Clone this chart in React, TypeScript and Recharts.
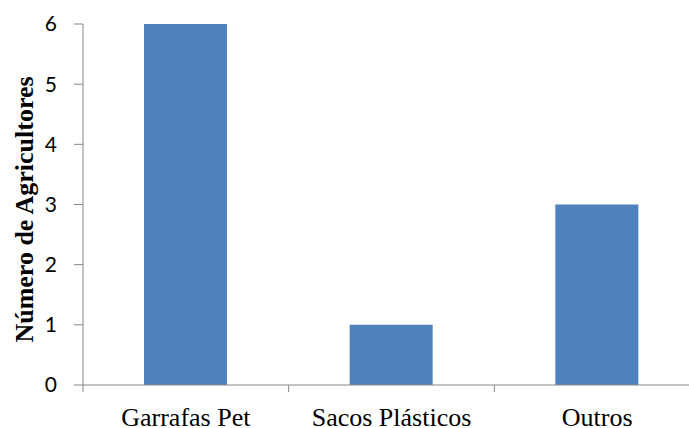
import { BarChart, Bar, XAxis, YAxis, Label } from "recharts";

const categories = ["Garrafas Pet", "Sacos Plásticos", "Outros"];
const agricultores = [6, 1, 3];
const yTicks = [0, 1, 2, 3, 4, 5, 6];

const data = categories.map((name, i) => ({ name, agricultores: agricultores[i] }));

const AXIS = "#878787";

// category label plus an Excel-style tick mark on the band boundary
// eslint-disable-next-line @typescript-eslint/no-explicit-any
const CategoryTick = ({ x, y, payload, index }: any) => {
  const half = payload?.offset ?? 0;
  return (
    <g>
      <line x1={x - half} x2={x - half} y1={y} y2={y + 7} stroke={AXIS} strokeWidth={1} />
      {index === categories.length - 1 && (
        <line x1={x + half} x2={x + half} y1={y} y2={y + 7} stroke={AXIS} strokeWidth={1} />
      )}
      <text
        x={x}
        y={y + 41}
        textAnchor="middle"
        fontFamily="'Liberation Serif', 'Times New Roman', serif"
        fontSize={26}
        fill="#000"
      >
        {payload.value}
      </text>
    </g>
  );
};

export default function App() {
  return (
    <div style={{ position: "absolute", left: 0, top: 0, width: 689, height: 428, overflow: "hidden", background: "#fff" }}>
      <BarChart
        width={712}
        height={428}
        data={data}
        margin={{ top: 24, right: 12, bottom: 0, left: 0 }}
      >
        <XAxis
          dataKey="name"
          height={43}
          tickLine={false}
          tickSize={0}
          tickMargin={0}
          axisLine={{ stroke: AXIS, strokeWidth: 1 }}
          tick={<CategoryTick />}
          interval={0}
        />
        <YAxis
          width={83}
          domain={[0, 6]}
          ticks={yTicks}
          tickSize={9}
          tickMargin={17}
          axisLine={{ stroke: AXIS, strokeWidth: 1 }}
          tickLine={{ stroke: AXIS, strokeWidth: 1 }}
          tick={{ fontFamily: "Lato, 'Open Sans', sans-serif", fontSize: 21, fill: "#000" }}
        >
          <Label
            content={({ viewBox }: any) => {
              const cx = 33;
              const cy = viewBox.y + viewBox.height / 2 + 5;
              return (
                <text
                  x={cx}
                  y={cy}
                  transform={`rotate(-90 ${cx} ${cy})`}
                  textAnchor="middle"
                  fontFamily="'Liberation Serif', 'Times New Roman', serif"
                  fontWeight="bold"
                  fontSize={26}
                  fill="#000"
                >
                  Número de Agricultores
                </text>
              );
            }}
          />
        </YAxis>
        <Bar dataKey="agricultores" fill="#4F81BD" barSize={83} isAnimationActive={false} />
      </BarChart>
    </div>
  );
}
